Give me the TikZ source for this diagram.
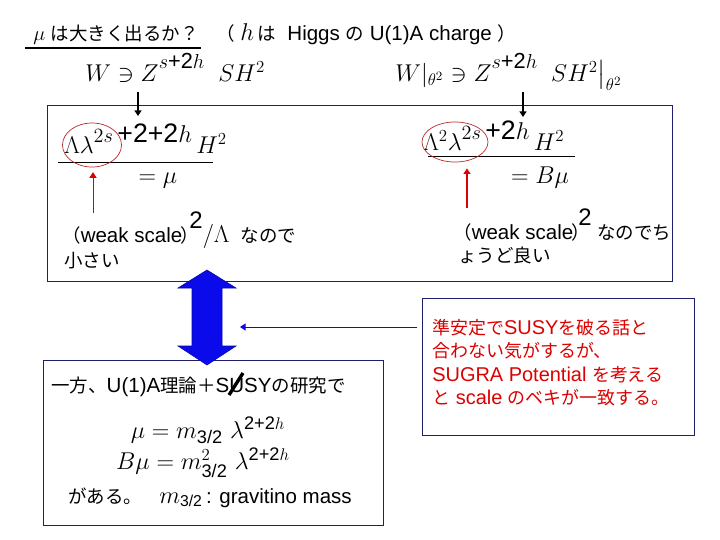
\documentclass[tikz,border=0pt]{standalone}
\usepackage{amsmath}
\usepackage{fontspec}
\setmainfont{Liberation Sans}
\newfontfamily\jpfont[Scale=0.9]{Noto Sans CJK JP}
\usetikzlibrary{arrows.meta,shapes.geometric}
\definecolor{cadre}{RGB}{30,30,110}
\definecolor{rouge}{RGB}{220,0,0}
\definecolor{ovale}{RGB}{190,40,40}
\definecolor{bleu}{RGB}{10,10,235}
\newcommand{\Ja}[1]{{\jpfont #1}}
\newcommand{\Exp}[3]%
% hauteur, taille, texte
{\raisebox{#1}{\fontsize{#2}{#2}\selectfont #3}}
\newcommand{\Petit}[1]{{\fontsize{14}{14}\selectfont #1}}

\begin{document}
\begin{tikzpicture}
[   x=0.25mm, y=-0.25mm,
    texte/.style={inner sep=0, font=\fontsize{14.6}{17}\selectfont},
    formule/.style={inner sep=0, font=\fontsize{18}{21}\selectfont},
    petiteformule/.style={inner sep=0, font=\fontsize{18.5}{21}\selectfont},
    rougetexte/.style={inner sep=0, align=left, text=rouge,
        font=\fontsize{14.2}{16.6}\selectfont},
    boite/.style={draw=cadre, line width=0.8pt, inner sep=0, anchor=north west},
    ellipse rouge/.style={draw=ovale, line width=0.5pt},
    fleche/.style={-{Triangle[length=4pt,width=5pt]}, line width=0.9pt}
]
    \useasboundingbox (0,0) rectangle (720,540);

    % titre
    \node[texte, anchor=base west] (titre) at (33,40)
        {$\mu$ \Ja{は大きく出るか？}};
    \draw[line width=1.6pt] (25,48) -- (201,48);
    \node[texte, anchor=base west] (charge) at (216,40)
        {\Ja{（}\ {\fontsize{18}{18}\selectfont$h$}\,\Ja{は}\ \ Higgs \Ja{の} U(1)A charge \Ja{）}};

    % superpotentiel
    \node[formule, anchor=base west] (Wg) at (85,81)
        {$W \ni Z$\Exp{0.9ex}{15.5}{$s$+2$h$}\ \ $SH^2$};
    \node[formule, anchor=base west] (Wd) at (395,81)
        {$W|_{\theta^2} \ni Z$\Exp{0.9ex}{15.5}{$s$+2$h$}\ \ $SH^2\big|_{\theta^2}$};

    % les trois boites
    \node[boite, minimum width=156.25mm, minimum height=44mm] (boiteH) at (47,105) {};
    \node[boite, minimum width=85mm, minimum height=41.25mm] (boiteB) at (43,360) {};
    \node[boite, minimum width=68mm, minimum height=34.25mm] (boiteD) at (422,298) {};

    % fleches noires
    \coordinate (aG) at (138,92);
    \coordinate (bG) at (138,116);
    \coordinate (aD) at (523,92);
    \coordinate (bD) at (523,117);
    \draw[fleche] (aG) -- (bG);
    \draw[fleche] (aD) -- (bD);

    % cote gauche : mu
    \node[formule, anchor=base west] (numG) at (64,153)
        {$\Lambda\lambda$\Exp{0.75ex}{19}{\Petit{$2s$}\,+2+2$h$}\,$H^2$};
    \draw[line width=0.6pt] (58,162) -- (213,162);
    \node[formule] (egG) at (158,181) {$=\mu$};
    \node[ellipse rouge, ellipse, minimum width=14.75mm, minimum height=11mm,
        inner sep=0] (ovG) at (92,145) {};
    \node[texte, anchor=base west] (faibleG) at (62,242)
        {\Ja{（}weak scale\hspace{-0.1em}\Ja{）}\hspace{-0.45em}\raisebox{1.2ex}{\fontsize{17}{17}\selectfont 2}{\fontsize{18}{18}\selectfont$/\Lambda$}\ \ \Ja{なので}};
    \node[texte, anchor=base west] (petitG) at (64,267) {\Ja{小さい}};
    \coordinate (rG) at (93,213);
    \draw[fleche, draw=rouge, fill=rouge, line width=0.6pt, shorten >=1.2mm] (rG) -- (rG |- ovG.south);

    % cote droit : B mu
    \node[formule, anchor=base west] (numD) at (423,150)
        {$\Lambda^2\lambda$\Exp{0.75ex}{19}{\Petit{$2s$}\,+2$h$}\,$H^2$};
    \draw[line width=0.6pt] (428,156) -- (575,156);
    \node[formule] (egD) at (540,178) {$=B\mu$};
    \node[ellipse rouge, ellipse, minimum width=16.5mm, minimum height=10mm,
        inner sep=0] (ovD) at (455,142) {};
    \node[texte, anchor=base west] (faibleD) at (453,239)
        {\Ja{（}weak scale\hspace{-0.1em}\Ja{）}\hspace{-0.55em}\raisebox{1.2ex}{\fontsize{17}{17}\selectfont 2}\ \Ja{なのでち}};
    \node[texte, anchor=base west] (petitD) at (458,262) {\Ja{ょうど良い}};
    \coordinate (rD) at (467,208);
    \draw[fleche, draw=rouge, fill=rouge, line width=1.4pt, shorten >=1.5mm] (rD) -- (rD |- ovD.south);

    % grosse double fleche
    \fill[bleu, draw=bleu!70!black, line width=0.4pt]
        (207,270) -- (236,288) -- (222,288) -- (222,346) -- (236,346) -- (207,365)
        -- (178,346) -- (192,346) -- (192,288) -- (178,288) -- cycle;
    \coordinate (fB) at (240,327);
    \draw[fleche, draw=bleu, fill=bleu, line width=0.7pt, shorten <=1.2mm] (boiteD.west |- fB) -- (fB);

    % boite du bas
    \node[texte, anchor=base west] (ippo) at (51,392)
        {\Ja{一方、}U(1)A\Ja{理論＋}SUSY\Ja{の研究で}};
    \draw[line width=2.4pt] (229,395) -- (243,373);
    \node[petiteformule] (muEq) at (208,430)
        {$\mu = m_{\text{3/2}}\ \lambda^{\text{2+2}h}$};
    \node[petiteformule] (bmuEq) at (203,463)
        {$B\mu = m^2_{\text{3/2}}\ \lambda^{\text{2+2}h}$};
    \node[texte, anchor=base west] (gaAru) at (68,503)
        {\Ja{がある。}\ \ \ {\fontsize{16}{16}\selectfont$m_{\text{3/2}}$}\,: gravitino mass};

    % boite de droite
    \node[rougetexte, anchor=north west] (txtD) at (432,319)
        {\Ja{準安定で}SUSY\Ja{を破る話と}\\
         \Ja{合わない気がするが、}\\
         SUGRA Potential \Ja{を考える}\\
         \Ja{と} scale \Ja{のベキが一致する。}};
\end{tikzpicture}
\end{document}
